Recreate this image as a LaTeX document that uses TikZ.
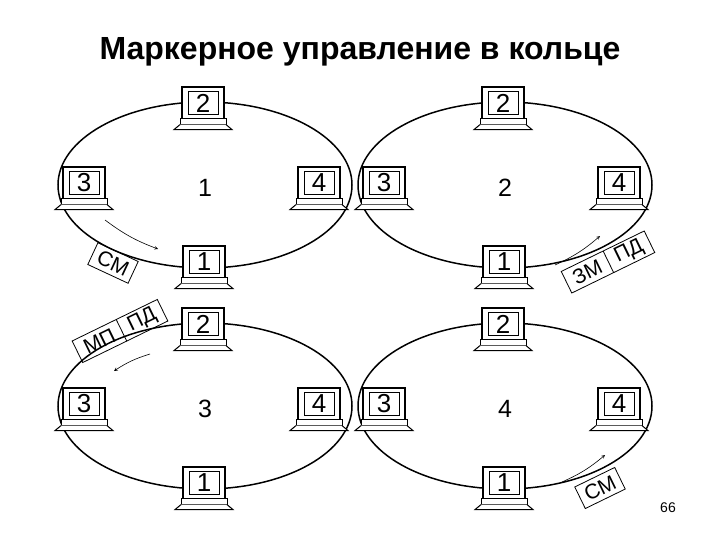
\documentclass[tikz,border=0pt]{standalone}
\usepackage{fontspec}
\setmainfont{Liberation Sans}
\usetikzlibrary{shapes.multipart}
\tikzset{
 ring/.style={line width=1.5pt},
 mon/.style={draw,line width=1.2pt,fill=white,minimum width=42pt,minimum height=32pt,inner sep=0pt},
 scr/.style={draw,line width=0.9pt,minimum width=30pt,minimum height=23pt,inner sep=0pt,font=\fontsize{26}{26}\selectfont},
 mv/.style={->,>=stealth,line width=0.6pt},
 tag/.style={draw,line width=0.8pt,font=\fontsize{21}{21}\selectfont,inner ysep=2pt,inner xsep=6pt,minimum height=24pt},
 tag2/.style={tag,rectangle split,rectangle split horizontal,rectangle split parts=2,inner xsep=8pt},
 pnum/.style={font=\fontsize{25}{25}\selectfont}
}
\newcommand{\comp}[3]{%
 \node[mon] (#1m) at (#2) {};
 \node[scr] (#1) at (#2) {#3};
 \draw[line width=1pt,fill=white] ([xshift=-23pt,yshift=1pt]#1m.south) rectangle ([xshift=23pt,yshift=-5pt]#1m.south);
 \draw[line width=1pt,fill=white] ([xshift=-23pt,yshift=-5pt]#1m.south) -- ([xshift=-29pt,yshift=-10pt]#1m.south) -- ([xshift=29pt,yshift=-10pt]#1m.south) -- ([xshift=23pt,yshift=-5pt]#1m.south);
}
\begin{document}
\begin{tikzpicture}[x=1pt,y=-1pt]
\useasboundingbox (0,0) rectangle (720,540);
\node[font=\bfseries\fontsize{32}{32}\selectfont] (title) at (360,52) {Маркерное управление в кольце};
\node[font=\fontsize{14}{14}\selectfont] (pg) at (668,508) {66};
\foreach \cx/\cy/\n/\id in {205/185/1/a,505/185/2/b,205/406/3/c,505/406/4/d}{
 \draw[ring] (\cx,\cy) ellipse [x radius=147, y radius=83];
 \node[pnum] (\id n) at (\cx,\cy+3) {\n};
 \comp{\id2}{\cx-2,\cy-82}{2}
 \comp{\id3}{\cx-121,\cy-2}{3}
 \comp{\id4}{\cx+114,\cy-2}{4}
 \comp{\id1}{\cx-1,\cy+77}{1}
}
% panel 1
\coordinate (p1s) at (105,220); \coordinate (p1e) at (158,249);
\draw[mv] (p1s) to[bend right=8] (p1e);
\node[tag,rotate=-25] (t1) at (113,263) {СМ};
% panel 2
\coordinate (p2s) at (555,265); \coordinate (p2e) at (600,236);
\draw[mv] (p2s) to[bend right=8] (p2e);
\node[tag2,rotate=26] (t2) at (608,262) {ЗМ\nodepart{two}ПД};
% panel 3
\coordinate (p3s) at (150,354); \coordinate (p3e) at (114,371);
\draw[mv] (p3s) to[bend left=-8] (p3e);
\node[tag2,rotate=26] (t3) at (120,331) {МП\nodepart{two}ПД};
% panel 4
\coordinate (p4s) at (562,482); \coordinate (p4e) at (605,455);
\draw[mv] (p4s) to[bend right=8] (p4e);
\node[tag,rotate=26] (t4) at (600,488) {СМ};
\end{tikzpicture}
\end{document}
